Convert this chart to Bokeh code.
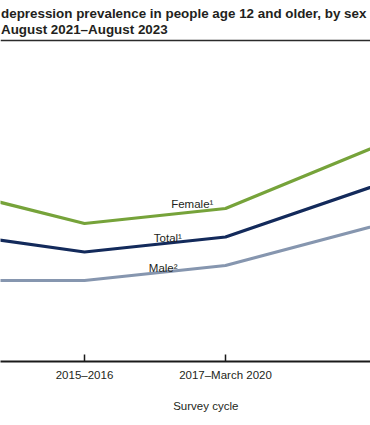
from bokeh.plotting import figure
from bokeh.models import Range1d, FixedTicker, Label, Span, Title
from bokeh.core.properties import value
from bokeh.embed import file_html
from bokeh.resources import INLINE

# ---- data ----
cycle_labels = ["2013–2014", "2015–2016", "2017–March 2020", "August 2021–August 2023"]
cycle_mid = [2014.0, 2016.0, 2018.625, 2022.625]   # midpoint of each survey cycle (years)
female = [11.0, 9.2, 10.2, 16.1]
total = [8.3, 7.3, 8.3, 13.2]
male = [5.4, 5.4, 6.4, 10.2]

FONT = "Liberation Sans"
TXT = "#231f20"

p = figure(width=370, height=425, output_backend="svg", toolbar_location=None,
           x_range=Range1d(2014.436, 2021.325), y_range=Range1d(0, 24.067),
           y_axis_location=None, x_axis_location="below",
           min_border_left=0, min_border_right=0, min_border_top=0, min_border_bottom=64)
p.grid.visible = False
p.outline_line_color = None
p.background_fill_color = "white"
p.border_fill_color = "white"

p.line(cycle_mid, female, line_width=3.2, line_color="#76a33a")
p.line(cycle_mid, total, line_width=3.2, line_color="#132a5b")
p.line(cycle_mid, male, line_width=3.2, line_color="#8696af")

ax = p.xaxis[0]
ax.ticker = FixedTicker(ticks=cycle_mid)
ax.major_label_overrides = {m: l for m, l in zip(cycle_mid, cycle_labels)}
ax.axis_line_width = 2
ax.axis_line_color = "#1a1a1a"
ax.major_tick_in = 7
ax.major_tick_out = 0
ax.major_tick_line_width = 1.5
ax.major_tick_line_color = "#1a1a1a"
ax.minor_tick_line_color = None
ax.major_label_standoff = 7
ax.major_label_text_font = FONT
ax.major_label_text_font_size = "11.5px"
ax.major_label_text_color = TXT

# x-axis title, offset to where the reference shows it
p.add_layout(Title(text="Survey cycle", align="left", offset=172.7, standoff=28,
                   text_font=FONT, text_font_size="11.5px", text_font_style="normal",
                   text_color=TXT), "below")

# top rule under the title
p.add_layout(Span(location=21.4, dimension="width", line_width=1.5, line_color="#2b2b2b"))

def lab(text, x, y, size, bold=False, align="left"):
    p.add_layout(Label(x=x, y=y, x_units="screen", y_units="screen", text=text,
                       text_font=FONT, text_font_size=size, text_color=TXT,
                       text_font_style="bold" if bold else "normal",
                       text_align=align, text_baseline="alphabetic"))

lab("depression prevalence in people age 12 and older, by sex", 0.5, 348.3, "13.4px", bold=True)
lab("August 2021–August 2023", 0.5, 331.7, "13.4px", bold=True)

lab("Female¹", 170.7, 157.7, "11.5px")
lab("Total¹", 153.3, 123.7, "11.5px")
lab("Male²", 148.3, 93.3, "11.5px")

open("out.html", "w").write(file_html(p, INLINE))
